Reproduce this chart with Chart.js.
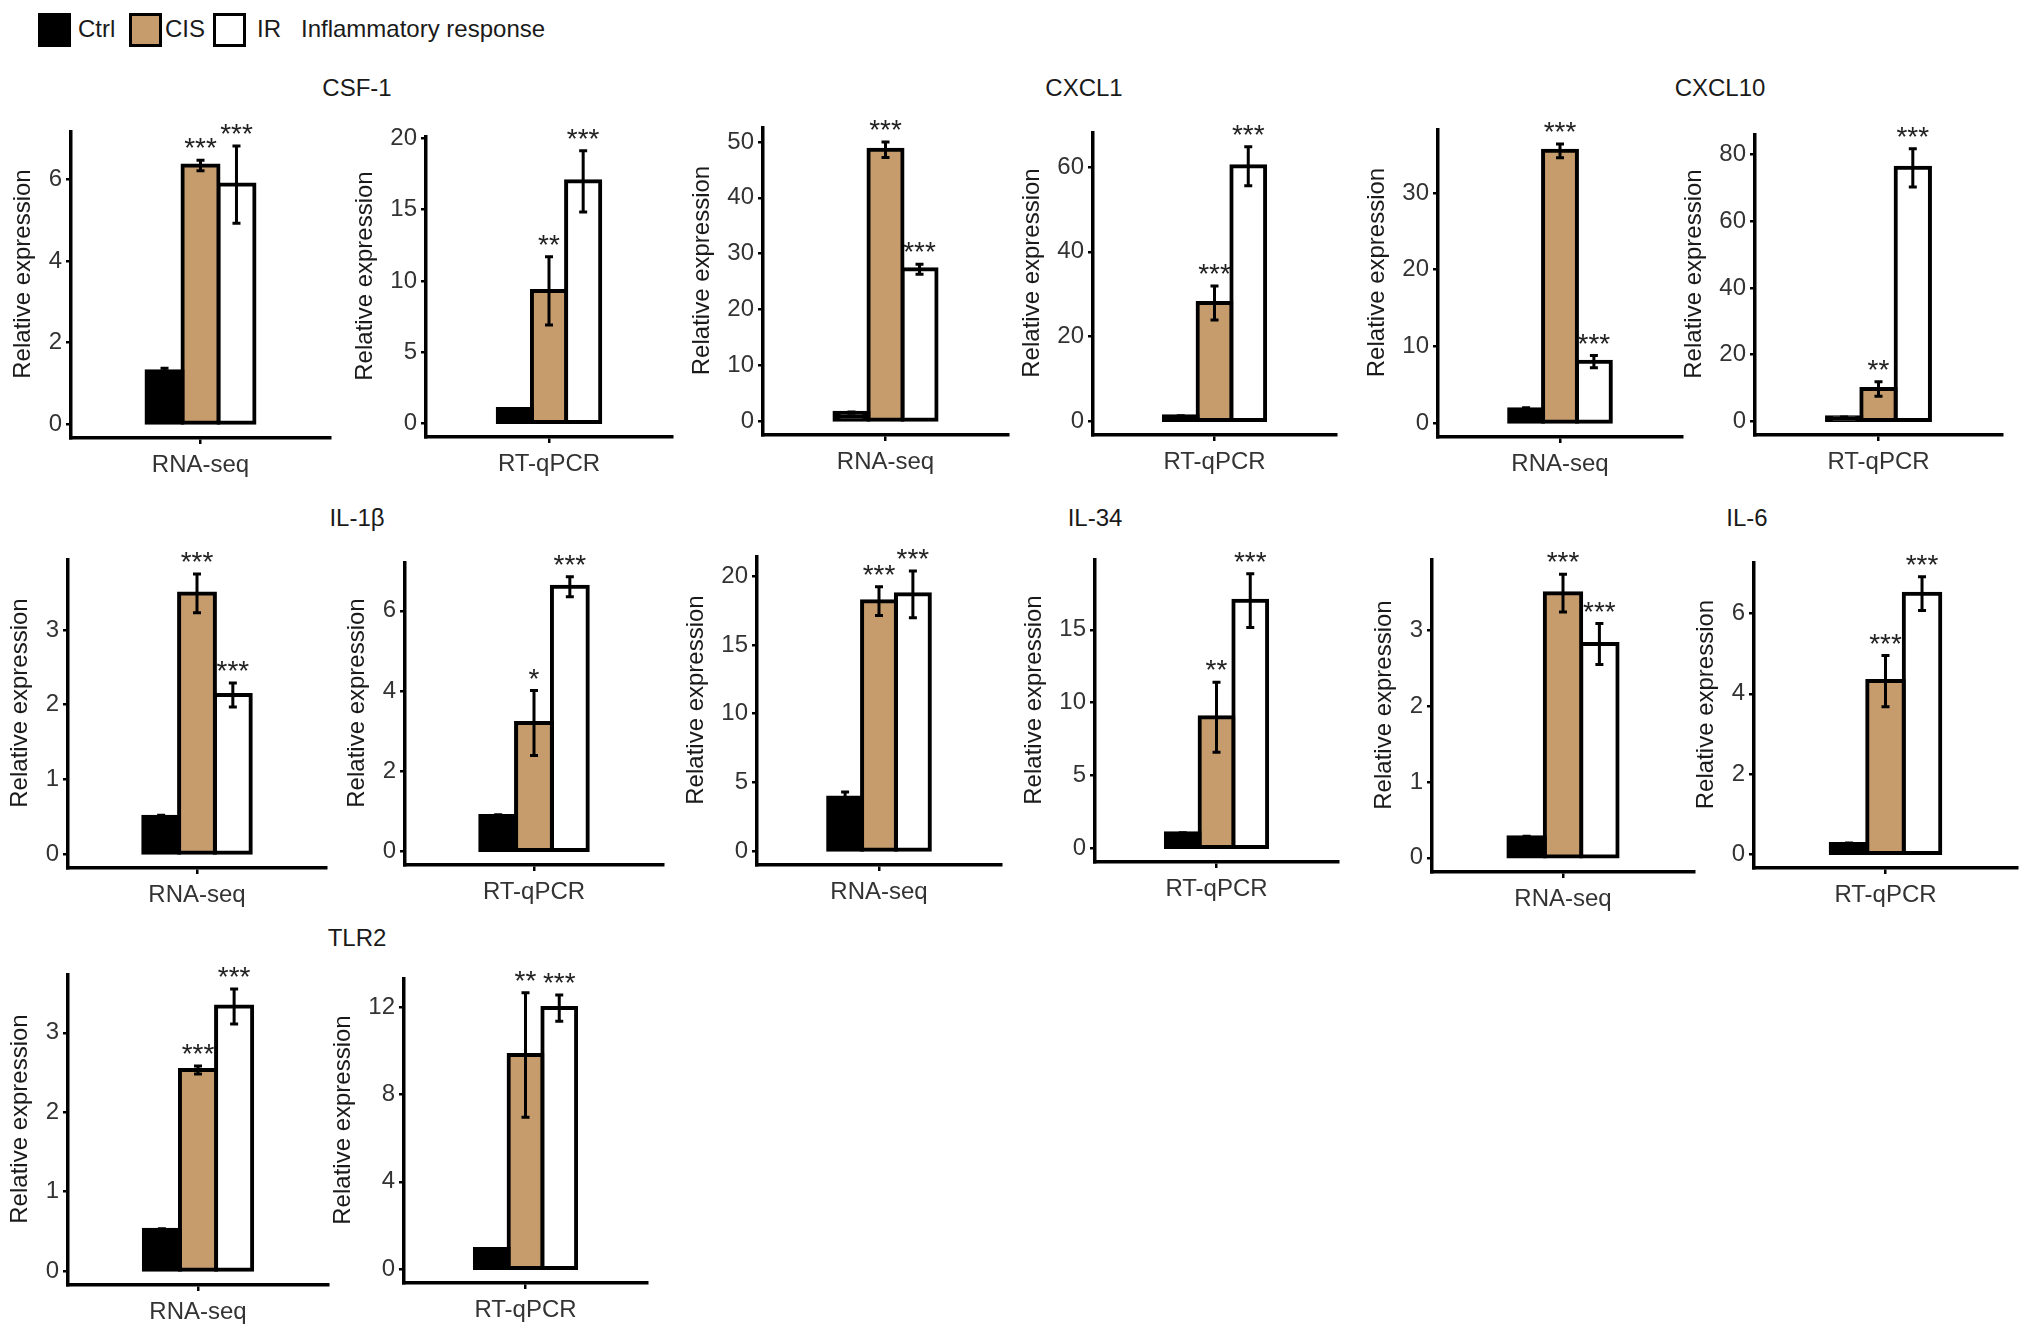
<!DOCTYPE html>
<html><head><meta charset="utf-8">
<script src="https://cdn.jsdelivr.net/npm/chart.js@4.4.1/dist/chart.umd.min.js"></script>
<style>
html,body{margin:0;padding:0;background:#fff;}
#fig{position:relative;width:2032px;height:1330px;overflow:hidden;font-family:"Liberation Sans",Arial,Helvetica,sans-serif;color:#1a1a1a;}
#fig canvas{position:absolute;}
.gt{position:absolute;font-size:24px;line-height:30px;transform:translate(-50%,-50%);white-space:nowrap;color:#1a1a1a;}
.lkey{position:absolute;box-sizing:border-box;border:3px solid #000;}
.ltxt{position:absolute;font-size:24px;line-height:34px;white-space:nowrap;color:#1a1a1a;}
</style></head>
<body><div id="fig"></div>
<script>
// ---------------- data ----------------
const genes = ["CSF-1", "CXCL1", "CXCL10", "IL-1β", "IL-34", "IL-6", "TLR2"];
const methods = ["RNA-seq", "RT-qPCR"];
const groups = ["Ctrl", "CIS", "IR"];
const legendTitle = "Inflammatory response";
const yTitle = "Relative expression";

// 14 panels: each gene -> RNA-seq, RT-qPCR
const panelGene   = [0, 0, 1, 1, 2, 2, 3, 3, 4, 4, 5, 5, 6, 6];
const panelMethod = [0, 1, 0, 1, 0, 1, 0, 1, 0, 1, 0, 1, 0, 1];

const ctrlMean = [1.30, 1.00, 1.5, 1.2, 1.8, 1.2, 0.50, 0.88, 3.9, 1.03, 0.27, 0.25, 0.52, 0.92];
const ctrlErr  = [0.07, 0.05, 0.1, 0.1, 0.2, 0.1, 0.02, 0.03, 0.4, 0.03, 0.015, 0.03, 0.01, 0.02];
const cisMean  = [6.35, 9.3, 48.6, 27.9, 35.5, 9.7, 3.49, 3.2, 18.2, 9.0, 3.49, 4.32, 2.53, 9.8];
const cisErr   = [0.13, 2.4, 1.4, 4.0, 0.9, 2.2, 0.26, 0.81, 1.05, 2.4, 0.25, 0.64, 0.05, 2.85];
const irMean   = [5.88, 17.0, 27.2, 60.2, 8.0, 76.0, 2.13, 6.6, 18.7, 17.0, 2.82, 6.5, 3.33, 11.95];
const irErr    = [0.95, 2.15, 0.9, 4.6, 0.8, 5.75, 0.16, 0.25, 1.7, 1.85, 0.27, 0.42, 0.22, 0.6];
const cisSig   = ["***", "**", "***", "***", "***", "**", "***", "*", "***", "**", "***", "***", "***", "**"];
const irSig    = ["***", "***", "***", "***", "***", "***", "***", "***", "***", "***", "***", "***", "***", "***"];

const yTicks = [
  [0, 2, 4, 6], [0, 5, 10, 15, 20],
  [0, 10, 20, 30, 40, 50], [0, 20, 40, 60],
  [0, 10, 20, 30], [0, 20, 40, 60, 80],
  [0, 1, 2, 3], [0, 2, 4, 6],
  [0, 5, 10, 15, 20], [0, 5, 10, 15],
  [0, 1, 2, 3], [0, 2, 4, 6],
  [0, 1, 2, 3], [0, 4, 8, 12]
];

// ---------------- layout / style ----------------
const FONT = '"Liberation Sans", Arial, Helvetica, sans-serif';
const groupColors = ["#000000", "#C69C6D", "#FFFFFF"];
// plot-area box per panel: [left(y axis), top, right, bottom(x axis)]
const panelBox = [
  [71, 132, 330, 438], [426, 137, 672, 437],
  [763, 128, 1008, 435], [1093, 133, 1336, 435],
  [1438, 130, 1682, 437], [1755, 135, 2002, 435],
  [68, 560, 326, 868], [405, 563, 663, 865],
  [757, 557, 1001, 865], [1095, 560, 1338, 862],
  [1432, 560, 1694, 872], [1754, 563, 2017, 868],
  [68, 975, 328, 1285], [404, 979, 647, 1283]
];
const geneTitlePos = [[357, 88], [1084, 88], [1720, 88], [357, 518], [1095, 518], [1747, 518], [357, 938]];
const legendKeyX = [38, 129, 213];
const legendTextX = [78, 165, 257];
const legendTitleX = 301;

Chart.defaults.font.family = FONT;
const fig = document.getElementById('fig');

// legend
groups.forEach((g, k) => {
  const key = document.createElement('div');
  key.className = 'lkey';
  key.style.left = legendKeyX[k] + 'px'; key.style.top = '13px';
  key.style.width = '33px'; key.style.height = '34px';
  key.style.background = groupColors[k];
  fig.appendChild(key);
  const t = document.createElement('div');
  t.className = 'ltxt'; t.textContent = g;
  t.style.left = legendTextX[k] + 'px'; t.style.top = '12px';
  fig.appendChild(t);
});
const lt = document.createElement('div');
lt.className = 'ltxt'; lt.textContent = legendTitle;
lt.style.left = legendTitleX + 'px'; lt.style.top = '12px';
fig.appendChild(lt);

// gene titles
genes.forEach((g, k) => {
  const d = document.createElement('div');
  d.className = 'gt'; d.textContent = g;
  d.style.left = geneTitlePos[k][0] + 'px'; d.style.top = geneTitlePos[k][1] + 'px';
  fig.appendChild(d);
});

const mctx = document.createElement('canvas').getContext('2d');
mctx.font = '24px ' + FONT;

const YW = 100, PT = 60, XH = 45, PR = 8;
const STAR_SIZE = 28;

for (let i = 0; i < 14; i++) {
  const [L, T, R, B] = panelBox[i];
  const cv = document.createElement('canvas');
  const W = (R - L) + YW + PR, H = (B - T) + PT + XH;
  cv.width = W; cv.height = H;
  cv.style.left = (L - YW) + 'px'; cv.style.top = (T - PT) + 'px';
  cv.style.width = W + 'px'; cv.style.height = H + 'px';
  fig.appendChild(cv);

  const means = [ctrlMean[i], cisMean[i], irMean[i]];
  const errs = [ctrlErr[i], cisErr[i], irErr[i]];
  const sigs = ["", cisSig[i], irSig[i]];
  const M = Math.max(...means.map((m, k) => m + errs[k]));
  const w = Math.max(...yTicks[i].map(v => mctx.measureText(String(v)).width));
  const titleDist = 34 + w;

  const annoPlugin = {
    id: 'anno' + i,
    afterDatasetsDraw(chart) {
      const ys = chart.scales.y, ctx = chart.ctx, ca = chart.chartArea;
      ctx.save();
      for (let d = 0; d < 3; d++) {
        const bar = chart.getDatasetMeta(d).data[0];
        const x = bar.x;
        const yt = ys.getPixelForValue(means[d] + errs[d]);
        const yb = ys.getPixelForValue(means[d] - errs[d]);
        ctx.strokeStyle = '#000'; ctx.lineWidth = 3; ctx.lineCap = 'butt';
        ctx.beginPath();
        ctx.moveTo(x, yt); ctx.lineTo(x, yb);
        ctx.moveTo(x - 4, yt); ctx.lineTo(x + 4, yt);
        ctx.moveTo(x - 4, yb); ctx.lineTo(x + 4, yb);
        ctx.stroke();
        if (sigs[d]) {
          ctx.fillStyle = '#222';
          ctx.font = STAR_SIZE + 'px ' + FONT;
          ctx.textAlign = 'center'; ctx.textBaseline = 'alphabetic';
          ctx.fillText(sigs[d], x, yt - 19 + 0.58 * STAR_SIZE);
        }
      }
      // y-axis title
      ctx.translate(ca.left - titleDist, (ca.top + ca.bottom) / 2 - 11);
      ctx.rotate(-Math.PI / 2);
      ctx.fillStyle = '#1a1a1a';
      ctx.font = '24px ' + FONT;
      ctx.textAlign = 'center'; ctx.textBaseline = 'middle';
      ctx.fillText(yTitle, 0, 0);
      ctx.restore();
    }
  };

  new Chart(cv, {
    type: 'bar',
    data: {
      labels: [methods[panelMethod[i]]],
      datasets: groups.map((g, d) => ({
        label: g,
        data: [means[d]],
        backgroundColor: groupColors[d],
        borderColor: '#000',
        borderWidth: 4,
        inflateAmount: 2,
        borderSkipped: false,
        categoryPercentage: 0.4167,
        barPercentage: 1.0
      }))
    },
    options: {
      responsive: false,
      animation: false,
      events: [],
      layout: {padding: {left: 0, top: PT, right: PR, bottom: 0}},
      plugins: {legend: {display: false}, tooltip: {enabled: false}},
      scales: {
        x: {
          type: 'category',
          offset: true,
          grid: {display: true, drawOnChartArea: false, drawTicks: true, tickLength: 6, offset: false, color: '#000', lineWidth: 2.5},
          border: {display: true, color: '#000', width: 3.5},
          ticks: {color: '#333', font: {size: 24}, padding: 7, maxRotation: 0, autoSkip: false},
          afterFit: s => { s.height = XH; }
        },
        y: {
          min: -0.05 * M,
          max: 1.05 * M,
          afterBuildTicks: s => { s.ticks = yTicks[i].map(v => ({value: v})); },
          grid: {display: true, drawOnChartArea: false, drawTicks: true, tickLength: 5, color: '#000', lineWidth: 2.5},
          border: {display: true, color: '#000', width: 3.5},
          ticks: {color: '#333', font: {size: 24}, padding: 4},
          title: {display: false},
          afterFit: s => { s.width = YW; }
        }
      }
    },
    plugins: [annoPlugin]
  });
}
</script>
</body></html>
